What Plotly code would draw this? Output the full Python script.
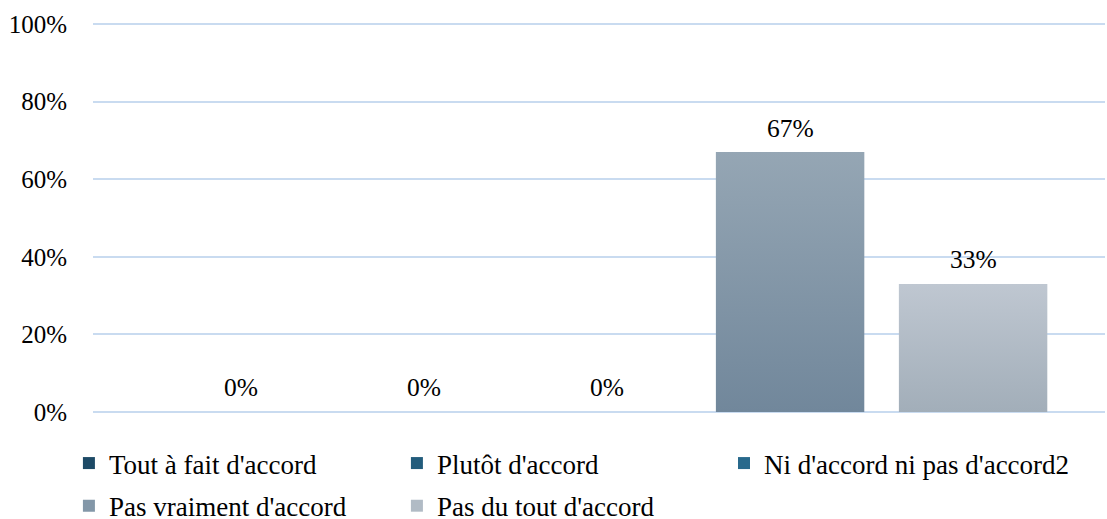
import plotly.graph_objects as go

# Survey answers and their shares (%)
categories = ["Tout à fait d'accord", "Plutôt d'accord", "Ni d'accord ni pas d'accord2",
              "Pas vraiment d'accord", "Pas du tout d'accord"]
values = [0, 0, 0, 67, 33]
tick_vals = [0, 20, 40, 60, 80, 100]
tick_text = ["0%", "20%", "40%", "60%", "80%", "100%"]

# light (top) and dark (bottom) shade of each series
top_colors = ["#2a5a78", "#2c6889", "#337a9c", "#95a6b4", "#bfc7d1"]
bottom_colors = ["#123c57", "#1a5272", "#1f6285", "#71879b", "#a2aeb9"]
mid_colors = ["#1d4a66", "#225c7c", "#28698c", "#8397a8", "#b1bbc5"]

# which legend box each series is listed in (two rows, row one split in two boxes)
legend_ids = ["legend", "legend", "legend3", "legend2", "legend2"]

FONT = "Liberation Serif"
BAR_W = 0.81
positions = list(range(len(categories)))

fig = go.Figure()

for i, (name, v) in enumerate(zip(categories, values)):
    fig.add_trace(go.Bar(
        x=[positions[i]], y=[v], name=name, width=BAR_W,
        marker=dict(color=mid_colors[i], line=dict(width=0)),
        legend=legend_ids[i],
        hoverinfo="name+y",
    ))

# vertical shading laid over each non-empty bar
for i, v in enumerate(values):
    if v <= 0:
        continue
    x0, x1 = positions[i] - BAR_W / 2, positions[i] + BAR_W / 2
    fig.add_trace(go.Scatter(
        x=[x0, x1, x1, x0, x0], y=[0, 0, v, v, 0],
        mode="none", fill="toself",
        fillgradient=dict(type="vertical",
                          colorscale=[[0, bottom_colors[i]], [1, top_colors[i]]]),
        showlegend=False, hoverinfo="skip",
    ))

# value labels above the bars
for i, v in enumerate(values):
    fig.add_annotation(x=positions[i], y=v, text=f"{v}%", showarrow=False,
                       yanchor="middle", yshift=24,
                       font=dict(family=FONT, size=25.5, color="#000000"))

legend_common = dict(orientation="h", xanchor="left", yanchor="top",
                     entrywidth=283, entrywidthmode="pixels", itemwidth=30,
                     font=dict(family=FONT, size=27, color="#000000"),
                     bgcolor="rgba(0,0,0,0)")

fig.update_layout(
    width=1107, height=519,
    margin=dict(l=93, r=2, t=23, b=106, autoexpand=False),
    paper_bgcolor="white", plot_bgcolor="white",
    barmode="overlay",
    font=dict(family=FONT, size=24, color="#000000"),
    xaxis=dict(range=[-0.809, 4.721], showticklabels=False, showgrid=False,
               zeroline=False, showline=False, fixedrange=True),
    yaxis=dict(range=[-0.26, 100.26], tickvals=tick_vals, ticktext=tick_text,
               showgrid=True, gridcolor="#c9dbf0", gridwidth=2,
               zeroline=False, showline=False,
               ticks="outside", ticklen=20, tickcolor="rgba(0,0,0,0)",
               tickfont=dict(family=FONT, size=25, color="#000000")),
    legend=dict(legend_common, x=-0.0238, y=-0.0667),
    legend3=dict(legend_common, x=0.6235, y=-0.0667, entrywidth=340),
    legend2=dict(legend_common, x=-0.0238, y=-0.176),
    showlegend=True,
)

fig.write_html("out.html")
